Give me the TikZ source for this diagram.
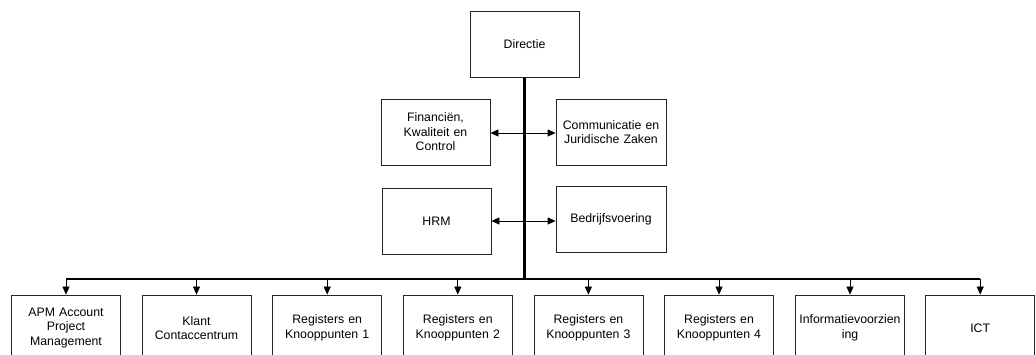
\documentclass[tikz,border=0pt]{standalone}
\usepackage{fontspec}
\setmainfont{Liberation Sans}
\usetikzlibrary{arrows.meta}
\begin{document}
\begin{tikzpicture}[x=1pt,y=-1pt,
  box/.style={draw=black!85,line width=0.8pt,fill=white,minimum width=109pt,minimum height=66pt,inner sep=1pt,align=center,text width=107pt,font=\fontsize{12.3}{14.5}\selectfont},
  trunk/.style={line width=2.2pt},
  arr/.style={line width=0.8pt,-{Triangle[length=8pt,width=7pt]}}]
\useasboundingbox (0,0) rectangle (1036,355);
\clip (0,0) rectangle (1036,355);
\fill[white] (0,0) rectangle (1036,355);
% top
\node[box] (dir) at (524.5,44.5) {Directie};
\node[box,minimum width=107pt] (fin) at (435.5,132) {Financiën,\\Kwaliteit en\\Control};
\node[box,minimum width=110pt] (com) at (611,132) {Communicatie en\\Juridische Zaken};
\node[box] (hrm) at (436.5,221.5) {HRM};
\node[box,minimum width=110pt] (bed) at (611,219.5) {Bedrijfsvoering};
% bottom row
\foreach \i/\cx/\t in {1/66/{APM Account\\Project\\Management},
  2/196.5/{Klant\\Contaccentrum},
  3/327.2/{Registers en\\Knooppunten 1},
  4/457.8/{Registers en\\Knooppunten 2},
  5/588.4/{Registers en\\Knooppunten 3},
  6/719/{Registers en\\Knooppunten 4},
  7/850/{Informatievoorzien\\ing},
  8/980.2/{ICT}}{
  \node[box] (u\i) at (\cx,328) {\t};
  \coordinate (b\i) at (\cx,279);
}
\coordinate (j) at (524.5,279);
\coordinate (s1) at (524.5,133);
\coordinate (s2) at (524.5,221);
% trunk and bus
\draw[trunk] (dir.south) -- (j);
\draw[trunk] (b1) -- (b8);
% side arrows
\draw[arr] (s1) -- (fin.east |- s1);
\draw[arr] (s1) -- (com.west |- s1);
\draw[arr] (s2) -- (hrm.east |- s2);
\draw[arr] (s2) -- (bed.west |- s2);
% drops
\foreach \i in {1,...,8}{
  \draw[arr] (b\i) -- (u\i.north);
}
\end{tikzpicture}
\end{document}
